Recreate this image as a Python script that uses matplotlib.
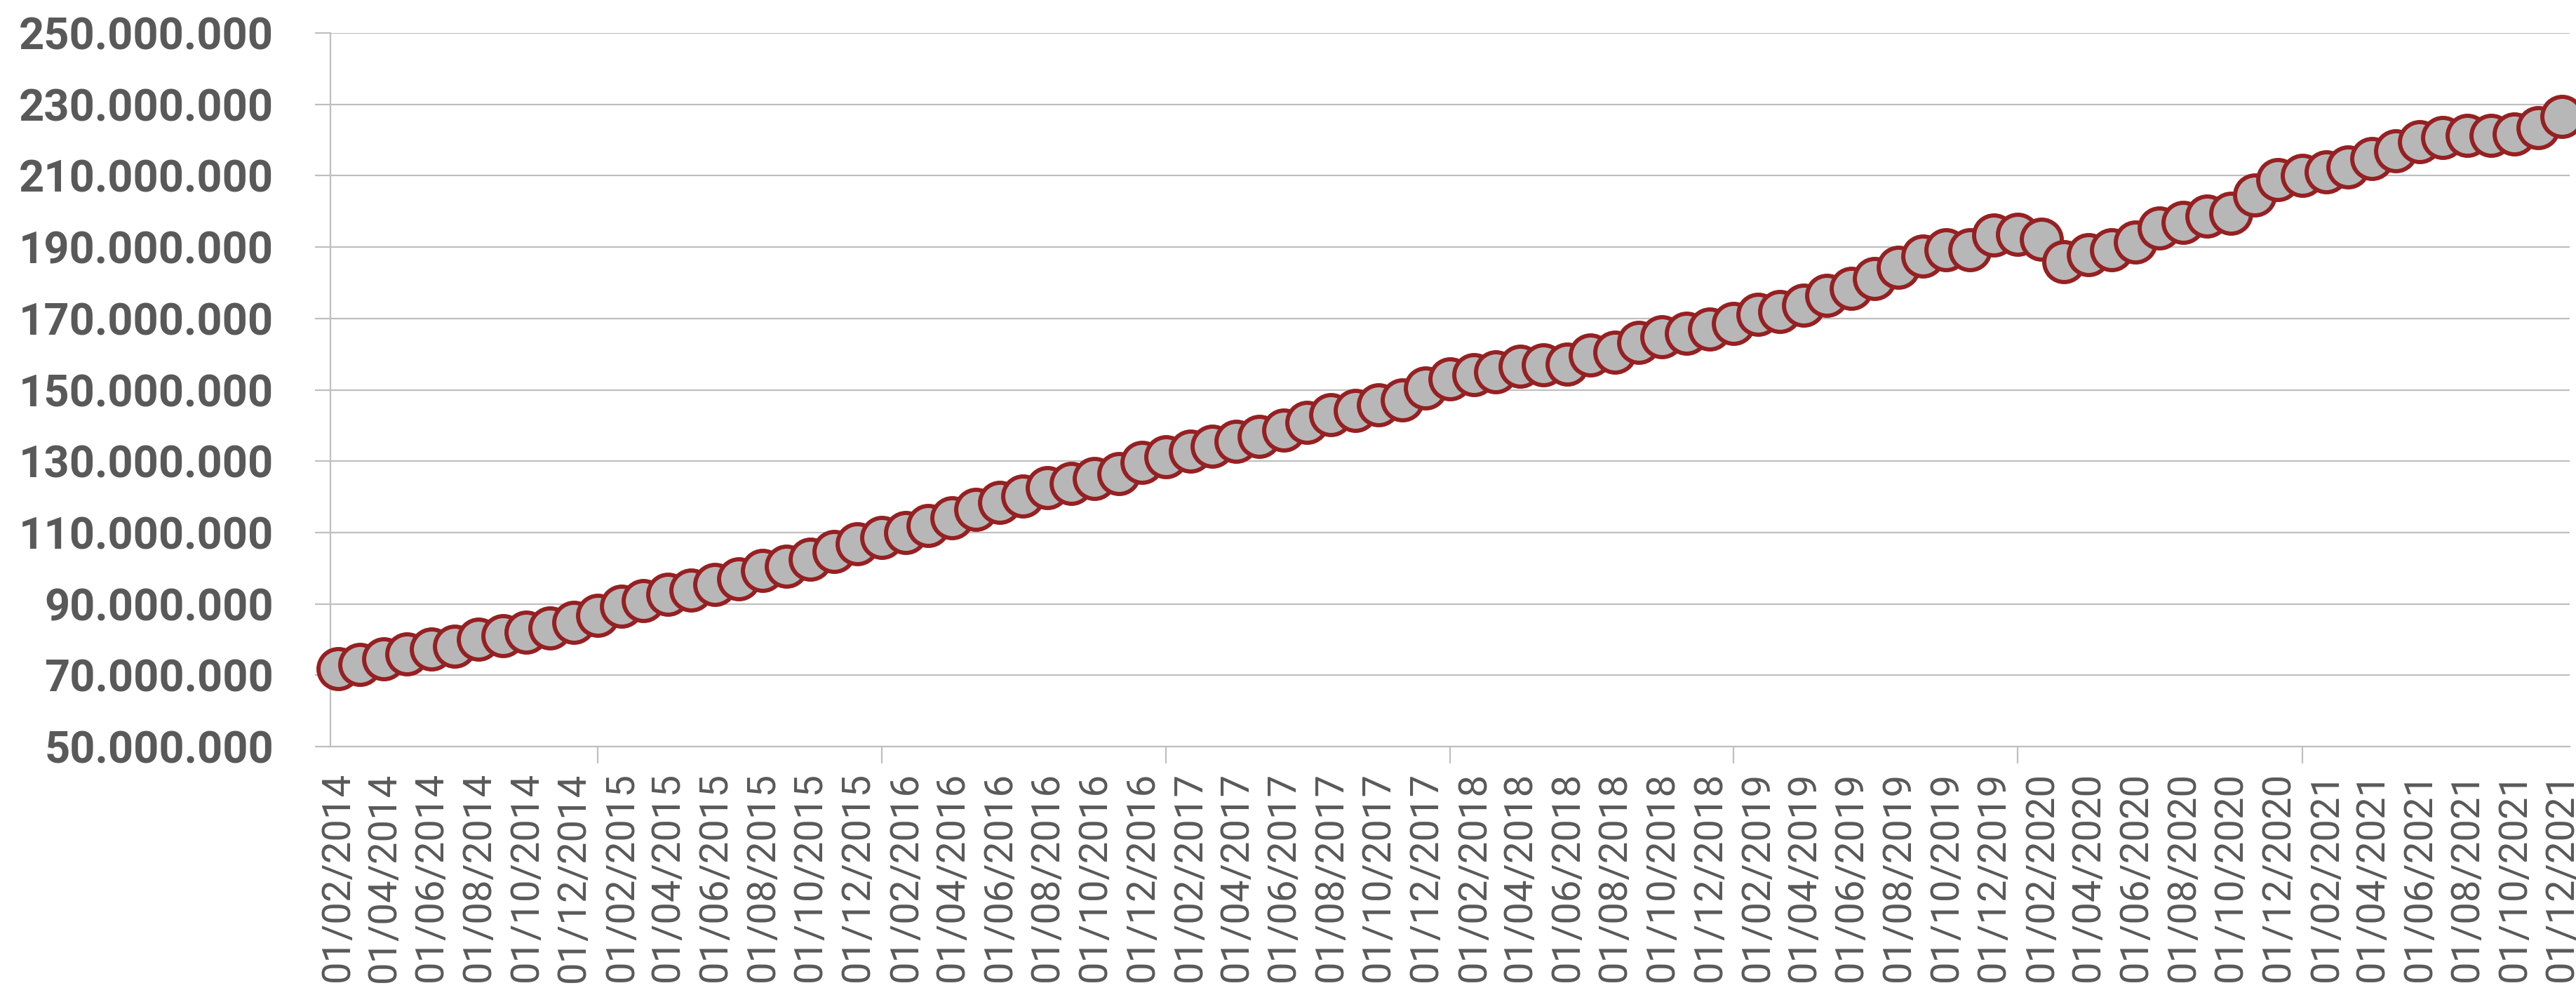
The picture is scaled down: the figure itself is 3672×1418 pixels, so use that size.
import matplotlib
matplotlib.use("Agg")
import matplotlib.pyplot as plt
import matplotlib.dates as mdates
import matplotlib.ticker as mticker
import pandas as pd

# ---------------- data ----------------
first_month = "2014-02-01"
last_month = "2021-12-01"
months = pd.date_range(first_month, last_month, freq="MS")  # 95 monthly points

# values in millions
values_millions = [
    71.8, 73.1, 74.6, 76.0, 77.4, 78.2, 80.0, 81.0, 82.0, 83.3,
    84.9, 86.8, 89.3, 90.9, 92.7, 93.8, 95.5, 97.1, 99.4, 100.5,
    102.5, 104.7, 106.8, 108.6, 110.0, 112.0, 114.2, 116.5, 118.5, 120.2,
    122.5, 123.8, 125.1, 126.6, 129.7, 131.3, 132.7, 134.1, 135.6, 136.9,
    138.6, 140.8, 143.0, 144.2, 145.7, 147.1, 150.4, 153.0, 154.2, 155.0,
    156.6, 157.0, 157.1, 159.7, 160.6, 163.2, 164.8, 165.8, 167.1, 168.6,
    171.1, 172.0, 173.7, 176.5, 178.5, 181.1, 184.4, 187.5, 189.3, 189.2,
    193.4, 193.5, 192.2, 185.8, 187.8, 189.3, 191.3, 195.3, 196.9, 198.6,
    199.4, 204.5, 208.8, 210.1, 211.1, 212.4, 214.7, 217.0, 219.6, 220.6,
    221.2, 221.2, 221.7, 223.5, 226.5,
]
values = [v * 1e6 for v in values_millions]

y_ticks = [50e6, 70e6, 90e6, 110e6, 130e6, 150e6, 170e6, 190e6, 210e6, 230e6, 250e6]
label_months = months[::2]            # 01/02/2014, 01/04/2014, ... 01/12/2021
tick_years = [2015, 2016, 2017, 2018, 2019, 2020, 2021]

# ---------------- style ----------------
TEXT = "#595959"
GRID = "#bfbfbf"
EDGE = "#962022"
FILL = "#b7b7b7"
FAM = ["Roboto", "DejaVu Sans"]

fig = plt.figure(figsize=(36.72, 14.18), dpi=100)
ax = fig.add_axes([0.1282, 0.2496, 0.8693, 0.7173])

ax.plot(months, values, color=EDGE, lw=3, marker="o", ms=41,
        mfc=FILL, mec=EDGE, mew=4.3, zorder=3, clip_on=False)

# y axis
ax.set_ylim(50e6, 250e6)
ax.set_yticks(y_ticks)
ax.yaxis.set_major_formatter(
    mticker.FuncFormatter(lambda v, p: f"{int(round(v)):,}".replace(",", ".")))
ax.yaxis.grid(True, color=GRID, lw=1.6)
ax.set_axisbelow(True)
ax.tick_params(axis="y", which="major", direction="out", length=16, width=1.6,
               color=GRID, pad=42, labelcolor=TEXT)
for lab in ax.get_yticklabels():
    lab.set_fontfamily(FAM)
    lab.set_fontweight("bold")
    lab.set_fontsize(45.5)

# x axis
pad_days = pd.Timedelta(days=10)
ax.set_xlim(months[0] - pad_days, months[-1] + pad_days)
ax.xaxis.set_major_locator(mticker.FixedLocator(
    [mdates.date2num(pd.Timestamp(f"{y}-01-01")) for y in tick_years]))
ax.xaxis.set_major_formatter(mticker.NullFormatter())
ax.xaxis.set_minor_locator(mticker.FixedLocator(mdates.date2num(label_months)))
ax.xaxis.set_minor_formatter(mticker.FixedFormatter(
    [d.strftime("%d/%m/%Y") for d in label_months]))
ax.tick_params(axis="x", which="major", direction="out", length=17, width=1.6,
               color=GRID)
ax.tick_params(axis="x", which="minor", length=0, pad=26, labelcolor=TEXT,
               labelrotation=90)
for lab in ax.get_xticklabels(minor=True):
    lab.set_fontfamily(FAM)
    lab.set_fontsize(40.5)

for side in ("top", "right"):
    ax.spines[side].set_visible(False)
for side in ("left", "bottom"):
    ax.spines[side].set_color(GRID)
    ax.spines[side].set_linewidth(1.6)

fig.savefig("out.png", dpi=100)
